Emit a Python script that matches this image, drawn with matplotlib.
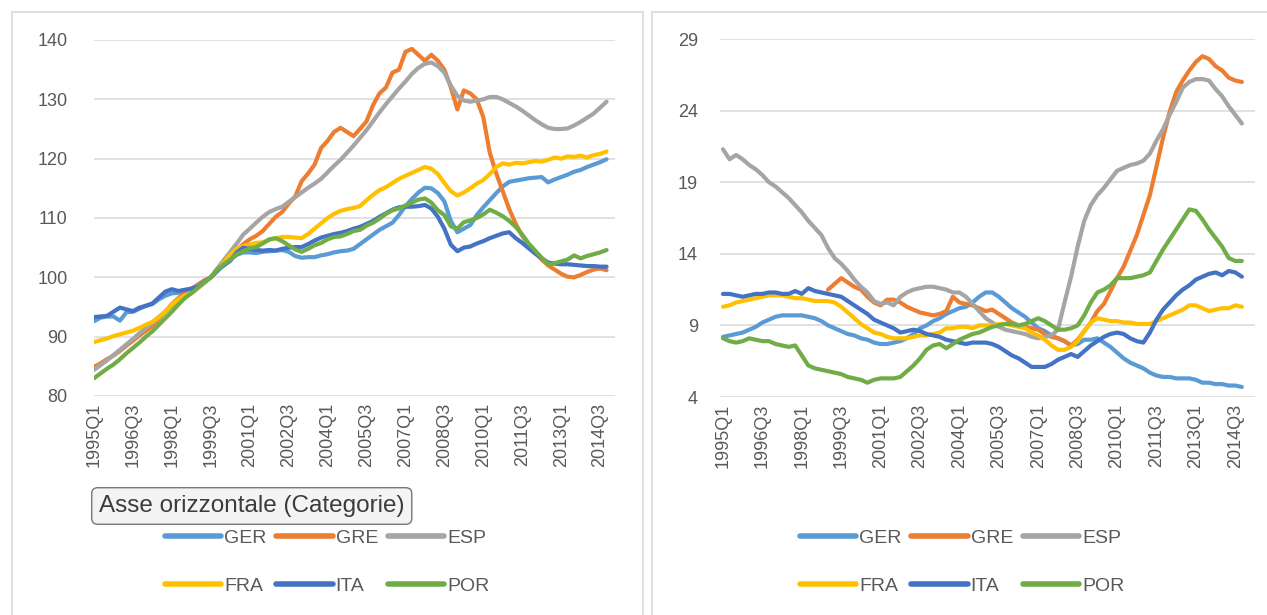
import numpy as np
import matplotlib
matplotlib.use('Agg')
import matplotlib.pyplot as plt
from matplotlib.patches import Rectangle

plt.rcParams['font.family'] = ['Liberation Sans', 'DejaVu Sans']

# quarterly categories 1995Q1 .. 2014Q4
quarters = [f"{y}Q{q}" for y in range(1995, 2015) for q in range(1, 5)]
countries = ['GER', 'GRE', 'ESP', 'FRA', 'ITA', 'POR']
colors = ['#5B9BD5', '#ED7D31', '#A5A5A5', '#FFC000', '#4472C4', '#70AD47']

# left panel: index (1999 = 100)
ger_idx = [92.6, 93.2, 93.4, 93.4, 92.7, 94.1, 94.2, 94.7, 95.2, 95.5,
           96.3, 96.9, 97.3, 97.4, 97.7, 98.1, 98.6, 99.3, 100.0, 101.0,
           102.2, 103.0, 103.8, 104.2, 104.2, 104.1, 104.3, 104.4, 104.5, 104.6,
           104.3, 103.6, 103.3, 103.4, 103.4, 103.7, 103.9, 104.2, 104.4, 104.5,
           104.8, 105.6, 106.4, 107.2, 108.0, 108.6, 109.2, 110.5, 112.0, 113.2,
           114.3, 115.1, 115.0, 114.2, 112.8, 109.5, 107.6, 108.2, 108.8, 110.5,
           111.8, 113.0, 114.2, 115.3, 116.1, 116.3, 116.5, 116.7, 116.8, 116.9,
           116.0, 116.5, 116.9, 117.3, 117.8, 118.1, 118.6, 119.0, 119.4, 119.9]
gre_idx = [84.9, 85.5, 86.2, 86.8, 87.6, 88.5, 89.3, 90.2, 91.0, 91.8,
           93.0, 94.2, 95.5, 96.5, 97.4, 98.0, 98.8, 99.5, 100.0, 101.2,
           102.5, 103.5, 104.6, 105.6, 106.4, 107.0, 107.8, 109.0, 110.2, 111.0,
           112.4, 113.6, 116.2, 117.5, 119.0, 121.8, 123.0, 124.5, 125.2, 124.5,
           123.8, 125.0, 126.3, 129.0, 131.0, 132.0, 134.5, 135.0, 138.0, 138.5,
           137.5, 136.5, 137.5, 136.5, 135.0, 132.0, 128.3, 131.5, 131.0, 130.0,
           127.0, 121.0, 117.5, 114.5, 111.5, 109.0, 107.0, 105.5, 104.2, 103.0,
           102.0, 101.3, 100.6, 100.1, 100.0, 100.4, 100.9, 101.3, 101.5, 101.2]
esp_idx = [84.4, 85.2, 86.0, 86.9, 87.8, 88.7, 89.6, 90.6, 91.5, 92.4,
           93.3, 94.2, 95.1, 96.0, 96.9, 97.7, 98.6, 99.3, 100.0, 101.5,
           102.9, 104.3, 105.7, 107.2, 108.2, 109.2, 110.2, 111.0, 111.5, 111.9,
           112.7, 113.5, 114.3, 115.1, 115.8, 116.6, 117.7, 118.8, 119.8, 121.0,
           122.2, 123.5, 124.8, 126.3, 127.8, 129.2, 130.5, 131.8, 133.0, 134.3,
           135.3, 136.0, 136.2, 135.6, 134.5, 132.3, 130.6, 129.8, 129.6, 129.8,
           130.0, 130.4, 130.4, 130.0, 129.4, 128.8, 128.1, 127.3, 126.5, 125.8,
           125.2, 125.0, 125.0, 125.1, 125.6, 126.2, 126.9, 127.6, 128.6, 129.6]
fra_idx = [89.1, 89.4, 89.7, 90.1, 90.4, 90.7, 91.0, 91.5, 92.0, 92.5,
           93.3, 94.3, 95.4, 96.3, 96.9, 97.3, 98.2, 99.1, 100.0, 101.2,
           102.5, 103.8, 104.8, 105.3, 105.5, 105.8, 105.9, 106.3, 106.6, 106.8,
           106.8, 106.7, 106.6, 107.3, 108.2, 109.1, 110.0, 110.7, 111.2, 111.5,
           111.7, 112.0, 113.0, 113.9, 114.7, 115.2, 115.9, 116.6, 117.1, 117.6,
           118.1, 118.6, 118.3, 117.4, 115.9, 114.5, 113.8, 114.3, 115.0, 115.8,
           116.4, 117.4, 118.6, 119.2, 119.0, 119.3, 119.2, 119.4, 119.6, 119.5,
           119.8, 120.2, 120.0, 120.4, 120.3, 120.5, 120.2, 120.6, 120.8, 121.2]
ita_idx = [93.3, 93.4, 93.5, 94.2, 94.9, 94.6, 94.3, 94.9, 95.2, 95.6,
           96.6, 97.6, 98.0, 97.7, 97.9, 98.1, 98.4, 99.2, 100.0, 101.2,
           102.0, 102.8, 104.2, 105.0, 104.8, 104.6, 104.5, 104.6, 104.5, 104.8,
           105.0, 105.1, 105.1, 105.6, 106.2, 106.7, 107.0, 107.3, 107.5, 107.8,
           108.2, 108.5, 109.0, 109.5, 110.2, 110.8, 111.4, 111.8, 111.9, 111.9,
           112.0, 112.2, 111.6, 110.2, 108.2, 105.5, 104.4, 105.0, 105.2, 105.7,
           106.1, 106.6, 107.0, 107.4, 107.6, 106.6, 105.8, 104.9, 104.0, 103.2,
           102.5, 102.3, 102.2, 102.2, 102.1, 102.0, 101.9, 101.9, 101.8, 101.8]
por_idx = [83.0, 83.8, 84.6, 85.3, 86.2, 87.2, 88.1, 89.0, 90.0, 90.9,
           92.0, 93.1, 94.2, 95.4, 96.5, 97.3, 98.2, 99.1, 100.0, 101.3,
           102.2, 103.0, 103.9, 104.4, 104.9, 105.1, 105.7, 106.4, 106.6, 106.1,
           105.4, 104.7, 104.3, 104.8, 105.4, 105.8, 106.4, 106.8, 106.9, 107.3,
           107.8, 108.0, 108.7, 109.2, 109.9, 110.7, 111.3, 111.6, 112.1, 112.6,
           113.1, 113.3, 112.6, 111.3, 110.5, 108.6, 108.2, 109.3, 109.6, 110.0,
           110.6, 111.4, 110.9, 110.3, 109.5, 108.5, 107.2, 105.7, 104.5, 103.3,
           102.2, 102.4, 102.7, 103.0, 103.7, 103.2, 103.6, 103.9, 104.2, 104.6]

# right panel: unemployment rate (%)
ger_u = [8.2, 8.3, 8.4, 8.5, 8.7, 8.9, 9.2, 9.4, 9.6, 9.7,
         9.7, 9.7, 9.7, 9.6, 9.5, 9.3, 9.0, 8.8, 8.6, 8.4,
         8.3, 8.1, 8.0, 7.8, 7.7, 7.7, 7.8, 7.9, 8.1, 8.4,
         8.8, 9.0, 9.3, 9.5, 9.8, 10.0, 10.2, 10.3, 10.6, 11.0,
         11.3, 11.3, 11.0, 10.6, 10.2, 9.9, 9.6, 9.2, 8.8, 8.6,
         8.3, 8.1, 7.9, 7.6, 7.7, 8.0, 8.0, 8.1, 7.8, 7.5,
         7.1, 6.7, 6.4, 6.2, 6.0, 5.7, 5.5, 5.4, 5.4, 5.3,
         5.3, 5.3, 5.2, 5.0, 5.0, 4.9, 4.9, 4.8, 4.8, 4.7]
gre_u = [np.nan] * 16 + [
         11.5, 11.9, 12.3, 12.0,
         11.7, 11.5, 11.0, 10.6, 10.4, 10.8, 10.8, 10.6, 10.3, 10.1,
         9.9, 9.8, 9.7, 9.8, 10.0, 11.0, 10.6, 10.5, 10.4, 10.2,
         10.0, 10.1, 9.8, 9.5, 9.2, 9.0, 8.9, 8.8, 8.7, 8.4,
         8.2, 8.1, 7.9, 7.6, 8.0, 8.6, 9.2, 10.0, 10.5, 11.4,
         12.3, 13.1, 14.2, 15.3, 16.7, 18.1, 20.1, 22.1, 23.9, 25.3,
         26.1, 26.8, 27.4, 27.8, 27.6, 27.1, 26.8, 26.3, 26.1, 26.0]
esp_u = [21.3, 20.6, 20.9, 20.6, 20.2, 19.9, 19.5, 19.0, 18.7, 18.3,
         17.9, 17.4, 16.9, 16.3, 15.8, 15.3, 14.4, 13.7, 13.3, 12.8,
         12.2, 11.7, 11.3, 10.7, 10.5, 10.6, 10.4, 11.0, 11.3, 11.5,
         11.6, 11.7, 11.7, 11.6, 11.5, 11.3, 11.3, 11.0, 10.5, 10.0,
         9.5, 9.2, 8.9, 8.7, 8.6, 8.5, 8.4, 8.2, 8.1, 8.2,
         8.3, 8.7, 10.6, 12.4, 14.5, 16.3, 17.4, 18.1, 18.6, 19.2,
         19.8, 20.0, 20.2, 20.3, 20.5, 21.0, 21.9, 22.7, 23.7, 24.6,
         25.6, 26.0, 26.2, 26.2, 26.1, 25.5, 25.0, 24.3, 23.7, 23.1]
fra_u = [10.3, 10.4, 10.6, 10.7, 10.8, 10.9, 11.0, 11.1, 11.1, 11.1,
         11.0, 10.9, 10.9, 10.8, 10.7, 10.7, 10.7, 10.6, 10.3, 9.9,
         9.5, 9.1, 8.8, 8.5, 8.4, 8.2, 8.1, 8.1, 8.1, 8.2,
         8.3, 8.3, 8.4, 8.5, 8.8, 8.8, 8.9, 8.9, 8.8, 9.0,
         9.0, 9.0, 9.1, 9.1, 9.0, 8.9, 8.8, 8.5, 8.3, 8.0,
         7.6, 7.3, 7.3, 7.5, 7.9, 8.6, 9.2, 9.5, 9.4, 9.3,
         9.3, 9.2, 9.2, 9.1, 9.1, 9.1, 9.3, 9.5, 9.7, 9.9,
         10.1, 10.4, 10.4, 10.2, 10.0, 10.1, 10.2, 10.2, 10.4, 10.3]
ita_u = [11.2, 11.2, 11.1, 11.0, 11.1, 11.2, 11.2, 11.3, 11.3, 11.2,
         11.2, 11.4, 11.2, 11.6, 11.4, 11.3, 11.2, 11.1, 11.0, 10.7,
         10.4, 10.1, 9.8, 9.4, 9.2, 9.0, 8.8, 8.5, 8.6, 8.7,
         8.6, 8.4, 8.3, 8.2, 8.0, 7.9, 7.8, 7.7, 7.8, 7.8,
         7.8, 7.7, 7.5, 7.2, 6.9, 6.7, 6.4, 6.1, 6.1, 6.1,
         6.3, 6.6, 6.8, 7.0, 6.8, 7.2, 7.6, 7.9, 8.2, 8.4,
         8.5, 8.4, 8.1, 7.9, 7.8, 8.5, 9.4, 10.1, 10.6, 11.1,
         11.5, 11.8, 12.2, 12.4, 12.6, 12.7, 12.5, 12.8, 12.7, 12.4]
por_u = [8.1, 7.9, 7.8, 7.9, 8.1, 8.0, 7.9, 7.9, 7.7, 7.6,
         7.5, 7.6, 6.9, 6.2, 6.0, 5.9, 5.8, 5.7, 5.6, 5.4,
         5.3, 5.2, 5.0, 5.2, 5.3, 5.3, 5.3, 5.4, 5.8, 6.2,
         6.7, 7.3, 7.6, 7.7, 7.4, 7.7, 8.0, 8.2, 8.4, 8.5,
         8.7, 8.9, 9.0, 9.1, 9.1, 9.0, 9.1, 9.3, 9.5, 9.3,
         9.0, 8.7, 8.7, 8.8, 9.0, 9.7, 10.6, 11.3, 11.5, 11.8,
         12.3, 12.3, 12.3, 12.4, 12.5, 12.7, 13.5, 14.3, 15.0, 15.7,
         16.4, 17.1, 17.0, 16.4, 15.7, 15.1, 14.5, 13.7, 13.5, 13.5]

idx_series = [ger_idx, gre_idx, esp_idx, fra_idx, ita_idx, por_idx]
unemp_series = [ger_u, gre_u, esp_u, fra_u, ita_u, por_u]

W, H = 1267, 615
fig = plt.figure(figsize=(W / 100, H / 100), dpi=100)
fig.patch.set_facecolor('white')

# chart frames (Excel chart areas)
for x0, x1 in [(12, 643), (652, 1275)]:
    fig.add_artist(Rectangle((x0 / W, 1 - 630 / H), (x1 - x0) / W, (630 - 12) / H,
                             transform=fig.transFigure, fill=False,
                             edgecolor='#D9D9D9', lw=1.2, clip_on=False))

ax1 = fig.add_axes([94 / W, 1 - 396 / H, (615 - 94) / W, (396 - 40) / H])
ax2 = fig.add_axes([720 / W, 1 - 397 / H, (1255 - 720) / W, (397 - 39) / H])

x = np.arange(len(quarters))
panels = [(ax1, idx_series, (80, 140), range(80, 141, 10), (0, 80.3), 19),
          (ax2, unemp_series, (4, 29), range(4, 30, 5), (-0.45, 81), 16)]

for ax, series, ylim, yticks, xlim, ypad in panels:
    lines = []
    for name, col, vals in zip(countries, colors, series):
        ln, = ax.plot(x, vals, color=col, lw=3.0, label=name,
                      solid_capstyle='round', solid_joinstyle='round')
        lines.append(ln)
    ax.set_ylim(*ylim)
    ax.set_xlim(*xlim)
    ax.set_yticks(list(yticks))
    ax.set_xticks(x[::6])
    ax.set_xticklabels(quarters[::6], rotation=90)
    ax.grid(axis='y', color='#D9D9D9', lw=1.1)
    ax.set_axisbelow(True)
    for s in ax.spines.values():
        s.set_visible(False)
    ax.tick_params(axis='both', length=0, colors='#595959', labelsize=13)
    ax.tick_params(axis='y', pad=ypad)
    ax.tick_params(axis='x', pad=5)

    # legend rows: GER GRE ESP / FRA ITA POR (matplotlib fills columns first)
    order = [0, 3, 1, 4, 2, 5]
    cx = (327 if ax is ax1 else 962) / W
    leg = fig.legend([lines[i] for i in order], [countries[i] for i in order],
                     loc='center', bbox_to_anchor=(cx, 1 - 562 / H), ncol=3,
                     frameon=False, fontsize=14, handlelength=2.9,
                     handletextpad=0.15, columnspacing=0.5, labelspacing=1.55)
    for t in leg.get_texts():
        t.set_color('#595959')
    for h in leg.get_lines():
        h.set_linewidth(4)

# Excel tooltip left over in the screenshot
fig.text(99 / W, 1 - 506 / H, 'Asse orizzontale (Categorie)', fontsize=17.5,
         color='#3C3C3C', va='center', ha='left', zorder=10,
         bbox=dict(boxstyle='round,pad=0.3,rounding_size=0.25',
                   facecolor='#F4F4F7', edgecolor='#767676', lw=1.0))

fig.savefig('out.png', dpi=100)
